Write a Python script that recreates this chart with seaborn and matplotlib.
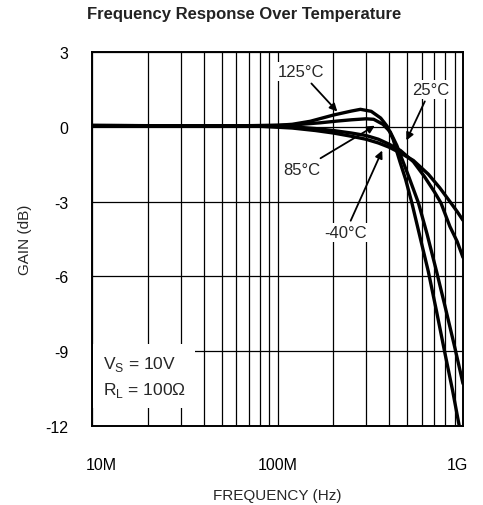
import numpy as np
import pandas as pd
import seaborn as sns
import matplotlib.pyplot as plt
from matplotlib.transforms import ScaledTranslation

# gain curves (frequency in Hz, gain in dB)
freq_125 = [10e6, 30e6, 60e6, 80e6, 100e6, 120e6, 150e6, 200e6, 250e6, 280e6, 320e6,
            360e6, 390e6, 420e6, 457e6, 490e6, 530e6, 590e6, 650e6, 720e6, 800e6, 880e6, 960e6]
gain_125 = [0.05, 0.04, 0.04, 0.05, 0.06, 0.1, 0.22, 0.47, 0.63, 0.7, 0.62,
            0.35, 0.02, -0.5, -1.4, -2.1, -3.05, -4.5, -5.8, -7.4, -9.1, -10.6, -12.1]

freq_85 = [10e6, 30e6, 60e6, 90e6, 120e6, 170e6, 210e6, 250e6, 300e6, 330e6, 370e6,
           405e6, 440e6, 475e6, 510e6, 575e6, 640e6, 720e6, 800e6, 900e6, 1e9]
gain_85 = [0.05, 0.04, 0.04, 0.05, 0.07, 0.16, 0.23, 0.28, 0.32, 0.3, 0.1,
           -0.2, -0.75, -1.4, -2.0, -3.05, -4.3, -5.8, -7.2, -8.8, -10.3]

freq_25 = [10e6, 40e6, 80e6, 120e6, 160e6, 200e6, 250e6, 300e6, 350e6, 400e6, 460e6,
           540e6, 620e6, 700e6, 760e6, 850e6, 930e6, 1e9]
gain_25 = [0.05, 0.04, 0.03, 0.0, -0.07, -0.15, -0.25, -0.35, -0.5, -0.7, -0.95,
           -1.4, -2.0, -2.6, -3.05, -4.0, -4.6, -5.24]

freq_m40 = [10e6, 40e6, 80e6, 120e6, 160e6, 200e6, 250e6, 300e6, 350e6, 400e6, 460e6,
            540e6, 650e6, 750e6, 850e6, 930e6, 1e9]
gain_m40 = [0.05, 0.04, 0.02, -0.05, -0.15, -0.25, -0.38, -0.5, -0.65, -0.82, -1.05,
            -1.35, -1.9, -2.45, -3.0, -3.4, -3.75]

x_ticks = [1e7, 1e8, 1e9]
x_tick_labels = ['10M', '100M', '1G']
y_ticks = [3, 0, -3, -6, -9, -12]

# long table for seaborn
frames = []
for name, f, g in [('125C', freq_125, gain_125), ('85C', freq_85, gain_85),
                   ('25C', freq_25, gain_25), ('-40C', freq_m40, gain_m40)]:
    frames.append(pd.DataFrame({'freq': f, 'gain': g, 'temp': name}))
df = pd.concat(frames, ignore_index=True)

sns.set_style('white')
plt.rcParams['font.family'] = ['Liberation Sans', 'DejaVu Sans']
plt.rcParams['axes.unicode_minus'] = False

fig = plt.figure(figsize=(4.83, 5.06), dpi=100)
ax = fig.add_axes([0.1905, 0.1561, 0.7681, 0.7392])

sns.lineplot(data=df, x='freq', y='gain', hue='temp', palette=['black'] * 4,
             legend=False, lw=2.4, ax=ax, sort=False, zorder=3)

ax.set_xscale('log')
ax.set_xlim(1e7, 1e9)
ax.set_ylim(-12, 3)

minor = [m * d for d in (1e7, 1e8) for m in range(2, 10)]
ax.set_xticks(minor, minor=True)
ax.set_xticks(x_ticks, x_tick_labels)
ax.set_yticks(y_ticks)
ax.xaxis.set_minor_formatter(plt.NullFormatter())
ax.tick_params(which='both', length=0, labelsize=11.5, colors='black')
ax.tick_params(axis='x', pad=22)
ax.tick_params(axis='y', pad=17)
# nudge the end labels like the original sheet
shifts = [9, 0, -6]
for lab, dx in zip(ax.get_xticklabels(), shifts):
    lab.set_transform(lab.get_transform() + ScaledTranslation(dx / 100, 0, fig.dpi_scale_trans))

ax.grid(which='both', axis='x', color='black', lw=0.9)
ax.grid(which='major', axis='y', color='black', lw=0.9)
for s in ax.spines.values():
    s.set_color('black')
    s.set_linewidth(1.4)

ax.set_xlabel('FREQUENCY (Hz)', fontsize=11, labelpad=12)
ax.set_ylabel('GAIN (dB)', fontsize=11, labelpad=10)
fig.suptitle('Frequency Response Over Temperature', fontsize=12, fontweight='bold',
             color='#222222', x=0.505, y=0.987)

box = dict(fc='white', ec='none', pad=1.5)
arrow = dict(arrowstyle='-|>', color='black', lw=1.3, mutation_scale=11)
ax.annotate('125°C', xy=(215e6, 0.53), xytext=(100e6, 2.2), fontsize=12,
            ha='left', va='center', bbox=box, arrowprops=arrow, zorder=4)
ax.annotate('85°C', xy=(345e6, 0.1), xytext=(108e6, -1.7), fontsize=12,
            ha='left', va='center', bbox=box, arrowprops=arrow, zorder=4)
ax.annotate('-40°C', xy=(372e6, -0.85), xytext=(178e6, -4.25), fontsize=12,
            ha='left', va='center', bbox=box, arrowprops=arrow, zorder=4)
ax.annotate('25°C', xy=(488e6, -0.65), xytext=(530e6, 1.5), fontsize=12,
            ha='left', va='center', bbox=box, arrowprops=arrow, zorder=4)

ax.text(1.14e7, -10.0, 'V$_\\mathregular{S}$ = 10V\nR$_\\mathregular{L}$ = 100Ω', fontsize=12.5,
        ha='left', va='center', linespacing=1.5,
        bbox=dict(fc='white', ec='none', pad=7), zorder=4)

fig.savefig('out.png', dpi=100)
